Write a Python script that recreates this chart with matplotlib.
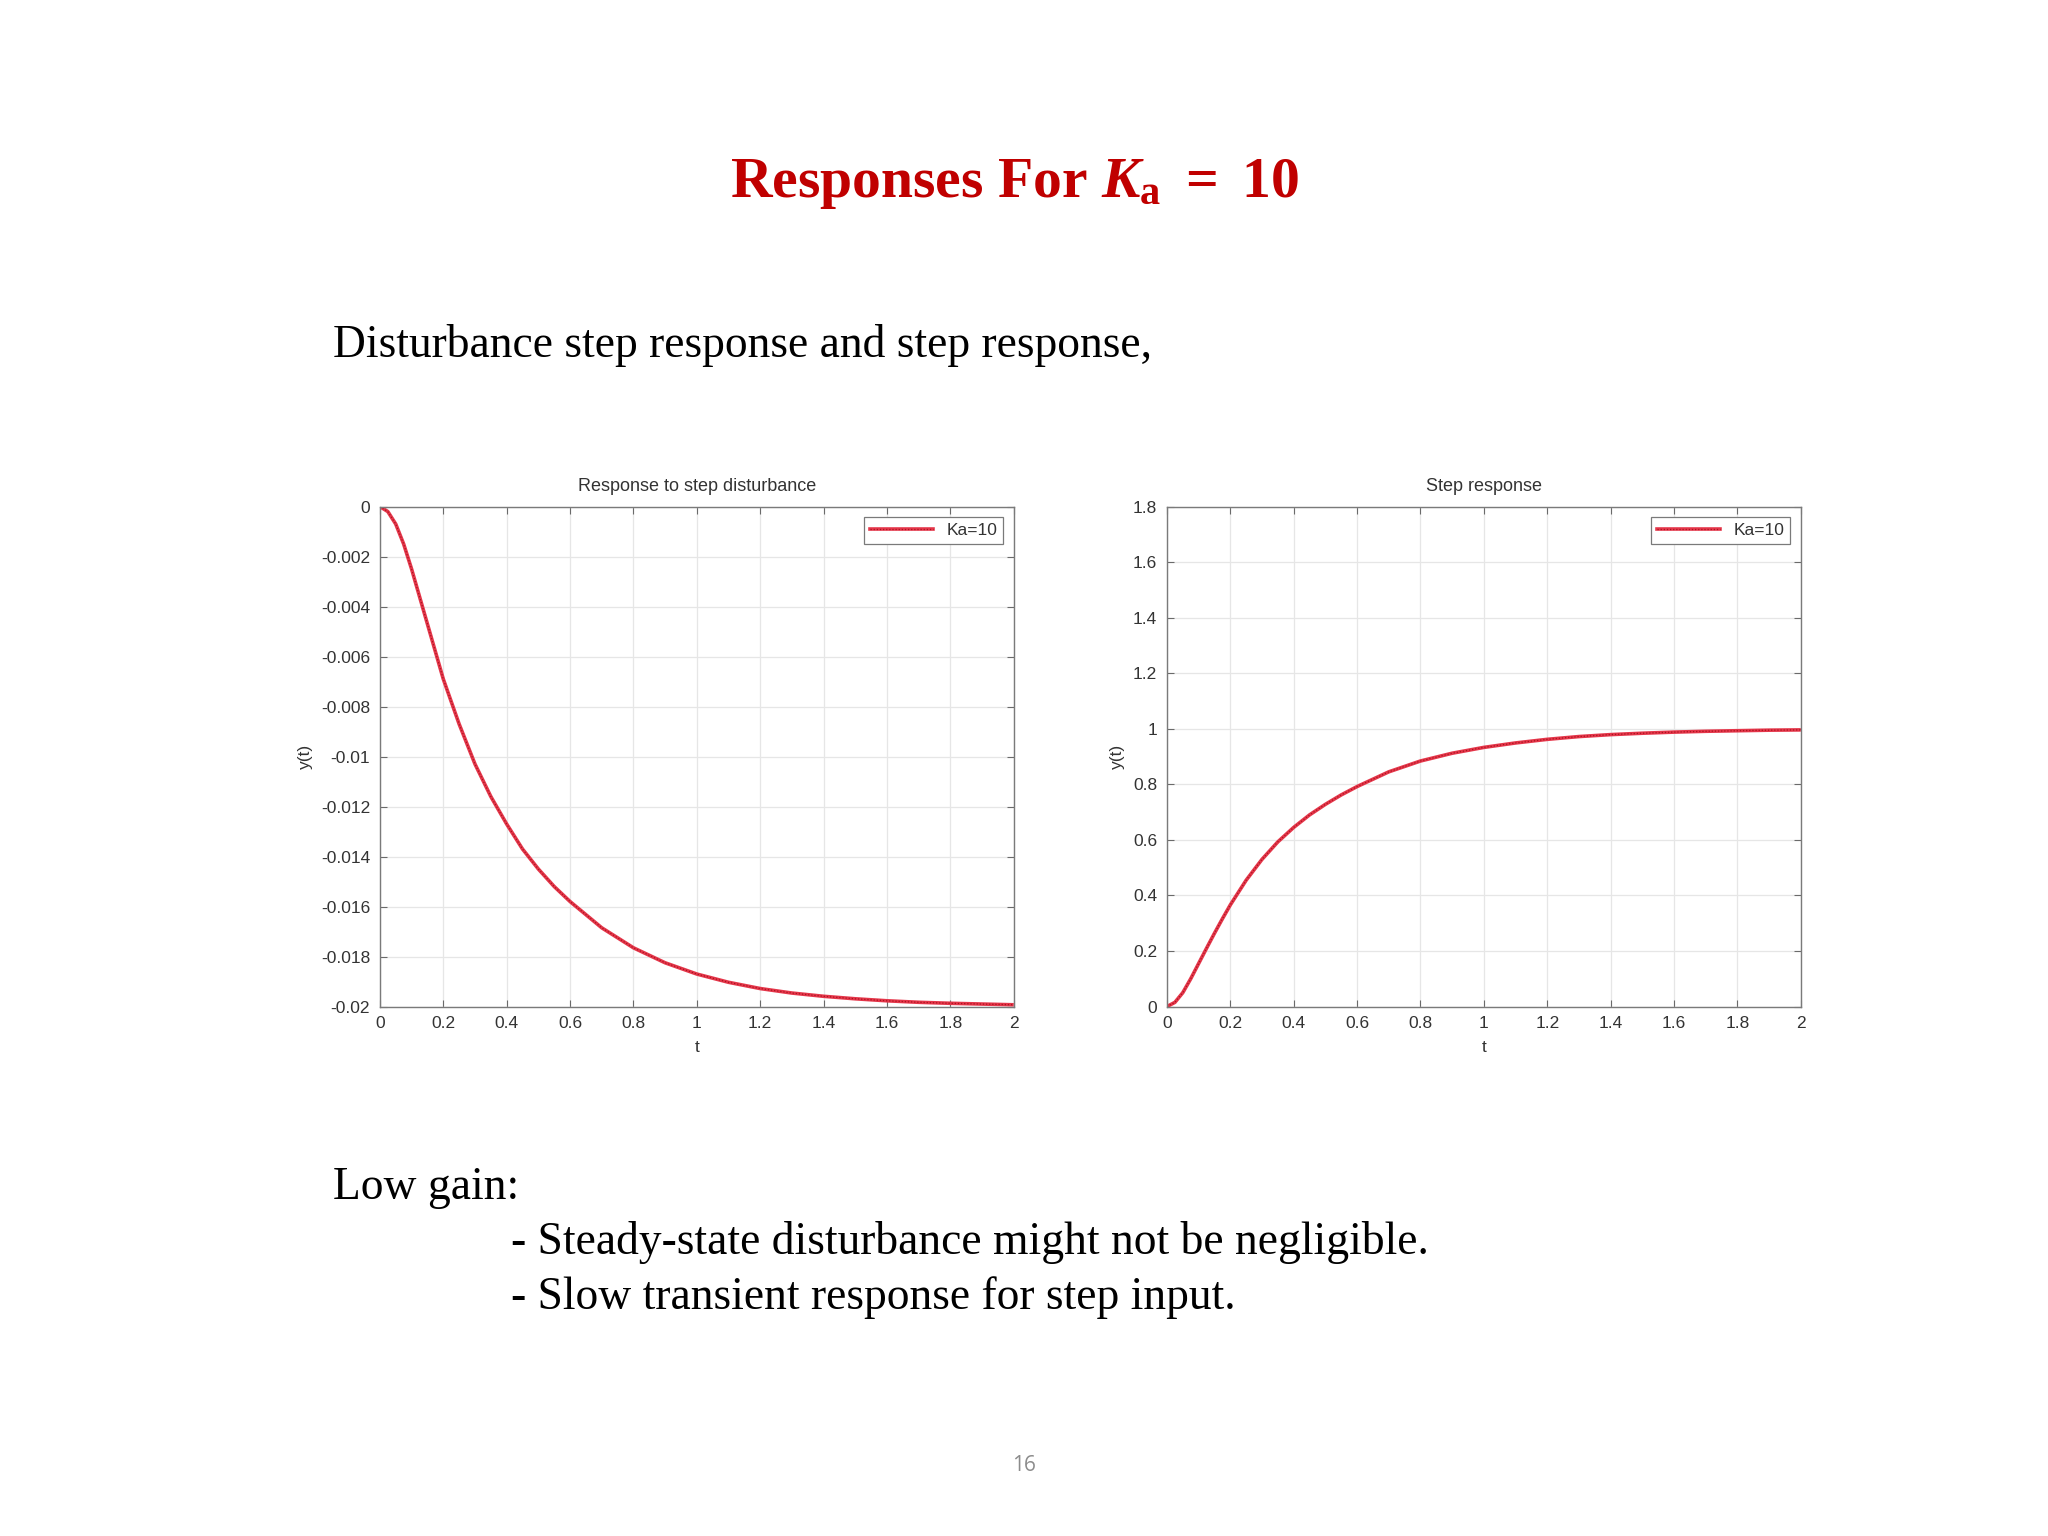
import numpy as np
import matplotlib
matplotlib.use('Agg')
import matplotlib.pyplot as plt

# values
t = [0, 0.025, 0.05, 0.075, 0.1, 0.125, 0.15, 0.175, 0.2, 0.25, 0.3, 0.35, 0.4, 0.45,
     0.5, 0.55, 0.6, 0.7, 0.8, 0.9, 1.0, 1.1, 1.2, 1.3, 1.4, 1.5, 1.6, 1.7, 1.8, 1.9, 2.0]
y_dist = [0, -0.0002, -0.0007, -0.0015, -0.0025, -0.0036, -0.0047, -0.0058, -0.0069,
          -0.0087, -0.0103, -0.0116, -0.0127, -0.0137, -0.0145, -0.0152, -0.0158,
          -0.01685, -0.01765, -0.01825, -0.0187, -0.01903, -0.01928, -0.01946, -0.01959,
          -0.01969, -0.01977, -0.01983, -0.01987, -0.0199, -0.01993]
y_step = [0, 0.015, 0.05, 0.10, 0.155, 0.21, 0.264, 0.316, 0.366, 0.455, 0.53, 0.593,
          0.645, 0.69, 0.728, 0.762, 0.792, 0.845, 0.884, 0.912, 0.933, 0.949, 0.962,
          0.972, 0.979, 0.984, 0.988, 0.991, 0.993, 0.995, 0.996]

xticks = [0, 0.2, 0.4, 0.6, 0.8, 1, 1.2, 1.4, 1.6, 1.8, 2]
xticklabels = ['0', '0.2', '0.4', '0.6', '0.8', '1', '1.2', '1.4', '1.6', '1.8', '2']
dist_ticks = [0, -0.002, -0.004, -0.006, -0.008, -0.01, -0.012, -0.014, -0.016, -0.018, -0.02]
dist_labels = ['0', '-0.002', '-0.004', '-0.006', '-0.008', '-0.01', '-0.012', '-0.014',
               '-0.016', '-0.018', '-0.02']
step_ticks = [0, 0.2, 0.4, 0.6, 0.8, 1, 1.2, 1.4, 1.6, 1.8]
step_labels = ['0', '0.2', '0.4', '0.6', '0.8', '1', '1.2', '1.4', '1.6', '1.8']
legend_label = 'Ka=10'

plt.rcParams['font.family'] = ['Liberation Sans', 'DejaVu Sans']
plt.rcParams['mathtext.fontset'] = 'custom'
plt.rcParams['mathtext.rm'] = 'Liberation Serif:bold'
plt.rcParams['mathtext.it'] = 'Liberation Serif:bold:italic'
plt.rcParams['mathtext.bf'] = 'Liberation Serif:bold'

fig = plt.figure(figsize=(20.48, 15.36), dpi=100)
fig.patch.set_facecolor('white')

serif = ['Liberation Serif', 'DejaVu Serif']
fig.text(0.4956, 0.872, r'Responses For $K_{\mathrm{a}}\ =\ 10$', ha='center', va='baseline',
         family=serif, weight='bold', fontsize=41.5, color='#c00000')
fig.text(0.1626, 0.7676, 'Disturbance step response and step response,', ha='left',
         va='baseline', family=serif, fontsize=32.8, color='black')
fig.text(0.1626, 0.2194, 'Low gain:', ha='left', va='baseline', family=serif,
         fontsize=32.8, color='black')
fig.text(0.2495, 0.1836, '- Steady-state disturbance might not be negligible.', ha='left',
         va='baseline', family=serif, fontsize=32.8, color='black')
fig.text(0.2495, 0.1478, '- Slow transient response for step input.', ha='left',
         va='baseline', family=serif, fontsize=32.8, color='black')
fig.text(0.5, 0.046, '16', ha='center', va='center', family=['Open Sans', 'DejaVu Sans'],
         fontsize=15, color='#8c8c8c')


def style_axes(ax, title, yt, ylab, ylim):
    ax.set_xlim(0, 2)
    ax.set_ylim(*ylim)
    ax.set_xticks(xticks)
    ax.set_xticklabels(xticklabels)
    ax.set_yticks(yt)
    ax.set_yticklabels(ylab)
    ax.tick_params(direction='in', length=5, width=0.8, top=True, right=True,
                   labelsize=12.5, colors='#6a6a6a', labelcolor='#333333', pad=7)
    for s in ax.spines.values():
        s.set_color('#7a7a7a')
        s.set_linewidth(1.0)
    ax.grid(True, color='#e6e6e6', linewidth=0.9)
    ax.set_axisbelow(True)
    ax.set_title(title, fontsize=13, color='#333333', pad=11)
    ax.set_xlabel('t', fontsize=12.5, color='#333333', labelpad=6)
    ax.set_ylabel('y(t)', fontsize=12.5, color='#333333', labelpad=6)


def draw(ax, y):
    ax.plot(t, y, color='#e5364a', linewidth=2.6, solid_capstyle='butt')
    ax.plot(t, y, color='#a8141f', linewidth=0.9, linestyle=(0, (1, 1.5)))
    # legend proxy with both styles
    h1, = ax.plot([], [], color='#e5364a', linewidth=2.6)
    h2, = ax.plot([], [], color='#a8141f', linewidth=0.9, linestyle=(0, (1, 1.5)))
    leg = ax.legend([(h1, h2)], [legend_label], loc='upper right', fontsize=12.5,
                    fancybox=False, framealpha=1, edgecolor='#7a7a7a',
                    handlelength=3.6, borderpad=0.35, borderaxespad=0.6)
    leg.get_frame().set_linewidth(0.9)
    for txt in leg.get_texts():
        txt.set_color('#333333')


ax1 = fig.add_axes([0.1855, 0.3447, 0.3095, 0.3255])
draw(ax1, y_dist)
style_axes(ax1, 'Response to step disturbance', dist_ticks, dist_labels, (-0.02, 0))

ax2 = fig.add_axes([0.5698, 0.3447, 0.3095, 0.3255])
draw(ax2, y_step)
style_axes(ax2, 'Step response', step_ticks, step_labels, (0, 1.8))

plt.savefig('out.png', dpi=100)
